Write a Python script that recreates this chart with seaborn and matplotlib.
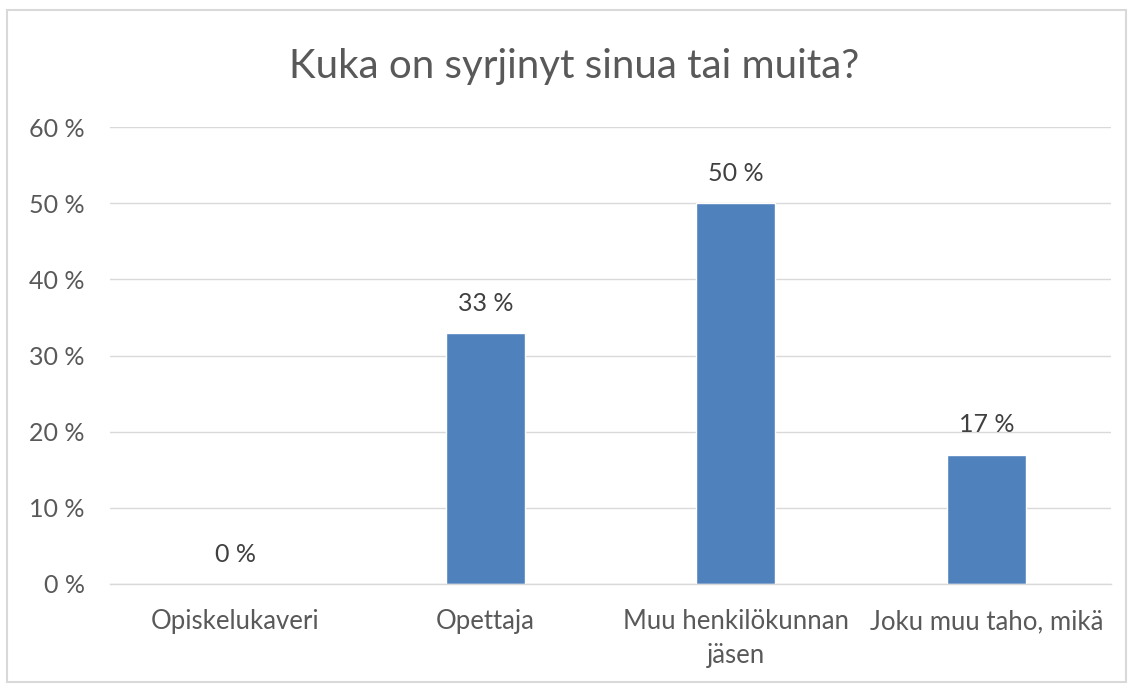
import matplotlib
matplotlib.use("Agg")
import matplotlib.pyplot as plt
import seaborn as sns
import pandas as pd
from matplotlib.patches import Rectangle

categories = ["Opiskelukaveri", "Opettaja", "Muu henkilökunnan\njäsen", "Joku muu taho, mikä"]
values = [0, 33, 50, 17]
yticks = [0, 10, 20, 30, 40, 50, 60]
ytick_labels = ["0 %", "10 %", "20 %", "30 %", "40 %", "50 %", "60 %"]
title = "Kuka on syrjinyt sinua tai muita?"

sns.set_style("white")
plt.rcParams['font.family'] = ['Lato', 'DejaVu Sans']

df = pd.DataFrame({"cat": categories, "val": values})

fig = plt.figure(figsize=(11.33, 6.87), dpi=100)
ax = fig.add_axes([0.097, 0.150, 0.884, 0.665])
sns.barplot(data=df, x="cat", y="val", color="#4F81BD", width=0.315, ax=ax, saturation=1)

ax.set_ylim(0, 60)
ax.set_yticks(yticks)
ax.set_yticklabels(ytick_labels)
ax.yaxis.grid(True, color="#D9D9D9", linewidth=1)
ax.set_axisbelow(True)
for s in ["top", "right", "left"]:
    ax.spines[s].set_visible(False)
ax.spines["bottom"].set_color("#D9D9D9")
ax.spines["bottom"].set_linewidth(1)
ax.set_xlabel("")
ax.set_ylabel("")
ax.tick_params(axis="y", length=0, labelsize=18, colors="#595959", pad=18)
ax.tick_params(axis="x", length=0, labelsize=18.5, colors="#595959", pad=18)
for lbl in ax.get_xticklabels():
    lbl.set_linespacing(1.45)

for i, v in enumerate(values):
    ax.annotate(f"{v} %", (i, v), xytext=(0, 13), textcoords="offset points",
                ha="center", va="bottom", fontsize=18, color="#404040")

fig.text(0.507, 0.903, title, ha="center", va="center", fontsize=29, color="#595959")

fig.patches.append(Rectangle((0.006, 0.008), 0.988, 0.978, transform=fig.transFigure,
                             fill=False, edgecolor="#D9D9D9", linewidth=1.5))

fig.savefig("out.png", dpi=100, facecolor="white")
